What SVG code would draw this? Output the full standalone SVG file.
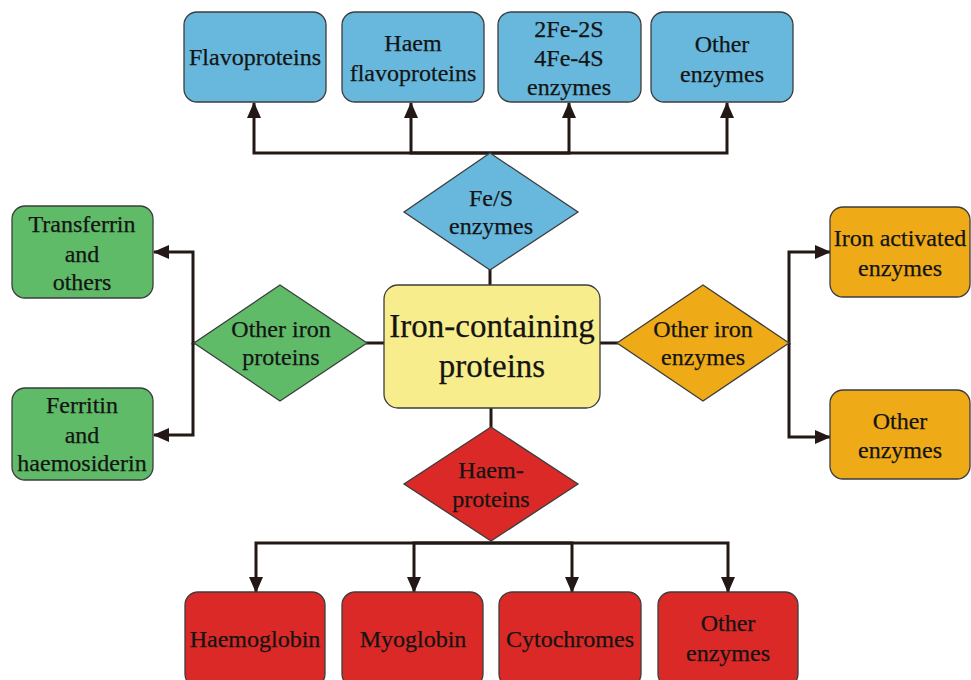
<svg xmlns="http://www.w3.org/2000/svg" width="971" height="680" viewBox="0 0 971 680">
  <defs>
    <marker id="arrow" markerUnits="userSpaceOnUse" markerWidth="16" markerHeight="14" refX="15" refY="7" orient="auto">
      <path d="M0,0 L16,7 L0,14 z" fill="#231815"/>
    </marker>
  </defs>
  <style>
    .box { stroke: #3d3d3d; stroke-width: 1.3; }
    .blue { fill: #67b8dc; }
    .green { fill: #5fbb68; }
    .yellow { fill: #f8ed8d; }
    .orange { fill: #efaa18; }
    .red { fill: #da2926; }
    text { font-family: "Liberation Serif", "Times New Roman", serif; font-size: 24px; fill: #141414; text-anchor: middle; stroke: #141414; stroke-width: 0.25; }
    .big { font-size: 33px; }
    .link { fill: none; stroke: #231815; stroke-width: 3; }
    .arr { marker-end: url(#arrow); }
  </style>

  <rect width="971" height="680" fill="#ffffff"/>

  <!-- connectors -->
  <g id="connectors">
    <path class="link arr" d="M490,153 H254 V103"/>
    <path class="link arr" d="M490,153 H411 V103"/>
    <path class="link arr" d="M490,153 H569 V103"/>
    <path class="link arr" d="M490,153 H727 V103"/>
    <path class="link" d="M490,268 V286"/>

    <path class="link" d="M384,343 H366"/>
    <path class="link arr" d="M195,343 H193 V252 H154"/>
    <path class="link arr" d="M193,343 V435 H154"/>

    <path class="link" d="M600,343 H618"/>
    <path class="link arr" d="M788,343 H789 V252 H830"/>
    <path class="link arr" d="M789,343 V437 H830"/>

    <path class="link" d="M491,408 V428"/>
    <path class="link arr" d="M491,543 H256 V592"/>
    <path class="link arr" d="M491,543 H414 V592"/>
    <path class="link arr" d="M491,543 H572 V592"/>
    <path class="link arr" d="M491,543 H728 V592"/>
  </g>

  <!-- centre -->
  <g id="iron-containing-proteins">
    <rect class="box yellow" x="384" y="285" width="216" height="123" rx="14"/>
    <text class="big" x="492" y="337">Iron-containing</text>
    <text class="big" x="492" y="377">proteins</text>
  </g>

  <!-- Fe/S branch -->
  <g id="fes-enzymes">
    <polygon class="box blue" points="490,153 578,212 490,270 404,212"/>
    <text x="491" y="206">Fe/S</text>
    <text x="491" y="234">enzymes</text>
  </g>
  <g id="flavoproteins">
    <rect class="box blue" x="184" y="12" width="142" height="90" rx="13"/>
    <text x="255" y="65">Flavoproteins</text>
  </g>
  <g id="haem-flavoproteins">
    <rect class="box blue" x="342" y="12" width="142" height="90" rx="13"/>
    <text x="413" y="51">Haem</text>
    <text x="413" y="81">flavoproteins</text>
  </g>
  <g id="fe-s-cluster-enzymes">
    <rect class="box blue" x="498" y="12" width="143" height="90" rx="13"/>
    <text x="569" y="37">2Fe-2S</text>
    <text x="569" y="66">4Fe-4S</text>
    <text x="569" y="95">enzymes</text>
  </g>
  <g id="fes-other-enzymes">
    <rect class="box blue" x="651" y="12" width="142" height="90" rx="13"/>
    <text x="722" y="52">Other</text>
    <text x="722" y="82">enzymes</text>
  </g>

  <!-- other iron proteins branch -->
  <g id="other-iron-proteins">
    <polygon class="box green" points="280,285 367,343 280,401 194,343"/>
    <text x="281" y="337">Other iron</text>
    <text x="281" y="365">proteins</text>
  </g>
  <g id="transferrin">
    <rect class="box green" x="12" y="206" width="141" height="92" rx="13"/>
    <text x="82" y="232">Transferrin</text>
    <text x="82" y="262">and</text>
    <text x="82" y="290">others</text>
  </g>
  <g id="ferritin">
    <rect class="box green" x="12" y="388" width="141" height="92" rx="13"/>
    <text x="82" y="413">Ferritin</text>
    <text x="82" y="443">and</text>
    <text x="82" y="471">haemosiderin</text>
  </g>

  <!-- other iron enzymes branch -->
  <g id="other-iron-enzymes">
    <polygon class="box orange" points="703,285 789,343 703,401 617,343"/>
    <text x="703" y="337">Other iron</text>
    <text x="703" y="365">enzymes</text>
  </g>
  <g id="iron-activated-enzymes">
    <rect class="box orange" x="830" y="207" width="140" height="90" rx="13"/>
    <text x="900" y="246">Iron activated</text>
    <text x="900" y="276">enzymes</text>
  </g>
  <g id="orange-other-enzymes">
    <rect class="box orange" x="830" y="390" width="140" height="89" rx="13"/>
    <text x="900" y="429">Other</text>
    <text x="900" y="458">enzymes</text>
  </g>

  <!-- haemproteins branch -->
  <g id="haemproteins">
    <polygon class="box red" points="491,427 578,484 491,541 404,484"/>
    <text x="491" y="478">Haem-</text>
    <text x="491" y="507">proteins</text>
  </g>
  <g id="haemoglobin">
    <rect class="box red" x="185" y="592" width="140" height="95" rx="13"/>
    <text x="255" y="647">Haemoglobin</text>
  </g>
  <g id="myoglobin">
    <rect class="box red" x="342" y="592" width="141" height="95" rx="13"/>
    <text x="413" y="647">Myoglobin</text>
  </g>
  <g id="cytochromes">
    <rect class="box red" x="499" y="592" width="142" height="95" rx="13"/>
    <text x="570" y="647">Cytochromes</text>
  </g>
  <g id="haem-other-enzymes">
    <rect class="box red" x="658" y="592" width="140" height="95" rx="13"/>
    <text x="728" y="631">Other</text>
    <text x="728" y="661">enzymes</text>
  </g>
</svg>
